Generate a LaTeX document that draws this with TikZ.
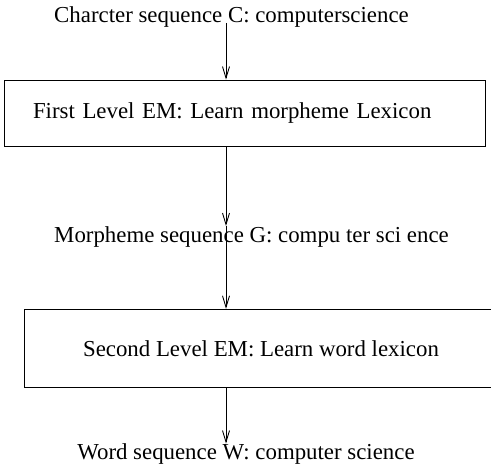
\documentclass[tikz,border=0pt]{standalone}
\usepackage{fontspec}
\setmainfont{Liberation Serif}
\usepackage{tikz}
\usetikzlibrary{positioning, arrows.meta, shapes}
\newcommand{\emfont}{\fontsize{13pt}{15pt}\selectfont}
\tikzstyle{seqtext} = [inner sep=0pt]
\tikzstyle{emblock} = [rectangle, draw, line width=0.5pt, inner ysep=0pt]
\tikzstyle{arrow} = [line width=0.5pt,-{Straight Barb[length=2.3mm,width=1.4mm]}]

\begin{document}
\begin{tikzpicture}[node distance=2.2cm]
    \tikzstyle{every node}=[font=\emfont]
    \useasboundingbox (0,0) rectangle (9.82,-9.34);
    \coordinate (axis) at (4.52,0);
    \node (chars) [seqtext] at (4.63,-0.345) {Charcter sequence C: computerscience};
    \node (lvlone) [emblock, below of=chars, yshift=0.285cm, xshift=0.26cm, text width=8.46cm, inner xsep=0.58cm, align=left, minimum height=1.32cm] {First Level EM: Learn morpheme Lexicon};
    \node (morphs) [seqtext, below of=lvlone, yshift=-0.275cm, xshift=0.14cm] {Morpheme sequence G: compu ter sci ence};
    \node (lvltwo) [emblock, below of=morphs, yshift=-0.03cm, xshift=0.19cm, minimum width=9.48cm, minimum height=1.56cm] {Second Level EM: Learn word lexicon};
    \node (words) [seqtext, below of=lvltwo, yshift=0.08cm, xshift=-0.3cm] {Word sequence W: computer science};

    \draw [arrow] (chars.base -| axis) -- (lvlone.north -| axis);
    \draw [arrow] (lvlone.south -| axis) -- (morphs.north -| axis);
    \draw [arrow] (morphs.north -| axis) -- (lvltwo.north -| axis);
    \draw [arrow] (lvltwo.south -| axis) -- (words.north -| axis);
\end{tikzpicture}
\end{document}
